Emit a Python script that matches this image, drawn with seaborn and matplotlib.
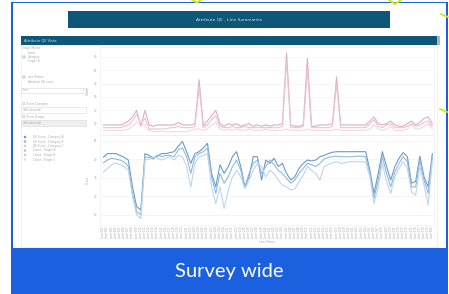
import numpy as np
import pandas as pd
import matplotlib
matplotlib.use('Agg')
import matplotlib.pyplot as plt
import matplotlib.patches as mpatches
import seaborn as sns

# Attribute QE - line summaries dashboard, shown inside a "Survey wide" frame

# --- 1. DATA ---
line_names = [f'Line {i:03d}' for i in range(1, 81)]

# top panel: counts (pink)
count_a = [9, 9, 9, 9, 9, 10, 12, 15, 20, 8, 20, 9, 8, 9, 9, 9, 9, 9, 11, 9,
           9, 9, 10, 43, 8, 12, 16, 20, 10, 8, 10, 9, 10, 8, 9, 10, 8, 9, 8, 9,
           8, 9, 9, 10, 63, 9, 8, 8, 9, 59, 8, 8, 9, 9, 9, 10, 45, 9, 9, 9,
           9, 9, 9, 9, 12, 15, 10, 9, 10, 12, 9, 8, 8, 10, 12, 9, 11, 14, 15, 10]
count_b = [7, 7, 7, 7, 7, 8, 9, 12, 17, 10, 14, 6, 6, 6, 6, 6, 7, 7, 8, 7,
           7, 7, 8, 38, 7, 9, 13, 16, 8, 7, 7, 8, 7, 7, 8, 7, 7, 7, 7, 7,
           7, 7, 7, 8, 57, 7, 7, 7, 8, 50, 7, 7, 7, 7, 7, 8, 40, 7, 7, 7,
           7, 7, 7, 7, 10, 13, 8, 7, 9, 10, 7, 7, 7, 8, 10, 8, 9, 11, 12, 8]
count_c = [5, 5, 5, 5, 5, 5, 6, 8, 11, 12, 8, 5, 4, 4, 4, 4, 4, 4, 4, 4,
           4, 5, 6, 6, 5, 6, 9, 11, 6, 5, 6, 5, 6, 5, 5, 6, 5, 5, 5, 6,
           5, 5, 5, 5, 6, 5, 5, 5, 5, 6, 5, 5, 5, 5, 5, 5, 6, 5, 5, 5,
           5, 5, 5, 5, 6, 9, 6, 5, 6, 8, 5, 5, 5, 6, 9, 6, 6, 8, 10, 6]

# bottom panel: scores (blue)
score_a = [41, 43, 43, 43, 42, 41, 39.5, 25, 14.4, 12.6, 43, 42, 40.5, 41.6, 43, 43, 43.5, 44, 47, 49.5,
           44, 37.7, 43, 44, 46, 48.5, 32.3, 25, 37, 32.3, 36, 41.3, 44, 36, 25, 30.5, 41.3, 41.3, 28.7, 39.5,
           37.7, 40.5, 36, 37.7, 32.3, 28.7, 30.5, 35, 37.7, 39.5, 39, 39.5, 41.3, 42, 43, 43.7, 44, 44, 44, 44,
           44, 44, 44, 44, 34, 21.5, 32.3, 44, 36, 28.7, 36, 40.5, 43.5, 41.3, 27, 28, 41.6, 30.5, 25, 43]
score_b = [38, 39.5, 40.5, 40, 39.5, 38.5, 36, 21.5, 11.7, 10, 41, 41, 40, 42.2, 41.3, 42, 42, 41.3, 45, 46,
           41.3, 32.3, 41.3, 43, 44, 46, 30.5, 21.5, 32.3, 27, 30.5, 36, 39.5, 34, 25, 32.3, 37.7, 39.5, 32.3, 36,
           39.5, 37, 34, 32.3, 29.6, 27, 28.7, 32.3, 35, 37.7, 37, 36, 37.7, 40, 41, 41.3, 41.6, 41.3, 41.3, 41.3,
           41.3, 41.6, 41.6, 41.3, 32.3, 18.9, 28.7, 41.3, 32.3, 25, 33, 37.7, 41.3, 38.6, 25, 25, 39.5, 28.7, 21.5, 41.3]
score_c = [33, 35, 37, 38, 37, 36, 34, 20, 10, 8, 39.5, 40, 41.3, 40.5, 39.5, 40.5, 41.3, 39.5, 42, 41.3,
           36, 25, 37.7, 41.3, 42, 43, 25, 16, 25, 13.5, 23.3, 30.5, 34, 30.5, 24, 28.7, 34, 37.7, 36, 30.5,
           34, 32.3, 28.7, 26, 25, 23.3, 24, 27.8, 31.4, 36, 34, 32.3, 28.7, 36, 37, 38, 38.6, 37.7, 38, 38.6,
           38.6, 38.6, 38.6, 38.6, 30.5, 16, 25, 37.7, 27.8, 21.5, 30.5, 35, 38.6, 35, 22.4, 20.6, 36, 26, 15.3, 38.6]

count_series = ['Count - Target A', 'Count - Target B', 'Count - Target C']
score_series = ['QE Score - Category A', 'QE Score - Category B', 'QE Score - Category C']
pink = ['#e2aec4', '#e9c4d4', '#f0d8e2']
blue = ['#6a9acb', '#93b9dd', '#bcd5ec']

idx = np.arange(len(line_names))
top_df = pd.DataFrame({'line': np.tile(idx, 3),
                       'value': count_a + count_b + count_c,
                       'series': np.repeat(count_series, len(idx))})
bot_df = pd.DataFrame({'line': np.tile(idx, 3),
                       'value': score_a + score_b + score_c,
                       'series': np.repeat(score_series, len(idx))})

# --- 2. FIGURE + FRAME ---
sns.set_style('white')
plt.rcParams['font.family'] = ['DejaVu Sans']
W, H = 449, 294
fig = plt.figure(figsize=(W / 100, H / 100), dpi=100)

bg = fig.add_axes([0, 0, 1, 1])
bg.set_xlim(0, W)
bg.set_ylim(H, 0)
bg.axis('off')

frame_blue = '#1b60de'
teal = '#0f5779'
grey_txt = '#a8a8a8'

bg.add_patch(mpatches.Rectangle((11, 1.5), 437.3, 292, color=frame_blue, lw=0))
bg.add_patch(mpatches.Rectangle((13.3, 3.4), 432.3, 244.8, color='white', lw=0))

# yellow-green bits poking in from outside
for xs, ys in [([192, 197, 201], [0, 2.5, 0]), ([389, 395, 401], [0, 4, 0]),
               ([441, 448], [14, 17]), ([440, 447], [109, 112])]:
    bg.plot(xs, ys, color='#d6e61c', lw=1.4, solid_capstyle='round')

# title banner
bg.add_patch(mpatches.Rectangle((68, 11), 322, 17, color=teal, lw=0))
bg.text(229, 19.5, 'Attribute QE - Line Summaries', color='#d0dde6', fontsize=3.2,
        ha='center', va='center')

# panel header + body
bg.add_patch(mpatches.Rectangle((21, 36), 416, 8.5, color=teal, lw=0))
bg.add_patch(mpatches.Rectangle((437, 36), 3, 8.5, color='#9fb9cc', lw=0))
bg.text(24, 40.2, 'Attribute QE Vista', color='#d0dde6', fontsize=2.6, va='center')
bg.add_patch(mpatches.Rectangle((21, 44.5), 416, 202, fill=False, ec='#e6e6e6', lw=0.4))

# sidebar controls
def small(x, y, s, **kw):
    bg.text(x, y, s, color=grey_txt, fontsize=2, va='center', **kw)

small(22, 48.5, 'Target Metric')
small(28, 52.5, 'Count')
bg.add_patch(mpatches.Circle((24, 57), 1.2, fc='white', ec='#999999', lw=0.4))
small(28, 57, 'Category')
small(28, 61, 'Target %')
bg.add_patch(mpatches.Circle((24, 77), 1.2, fc='white', ec='#999999', lw=0.4))
small(28, 77, 'Line Status')
small(28, 81.5, 'Attribute QE score')
bg.add_patch(mpatches.Rectangle((21, 87.5), 65, 5.5, fc='white', ec='#d8d8d8', lw=0.4))
small(23, 90.2, 'Line')
small(83, 90.2, 'v')
small(22, 104, 'QE Score Category')
bg.add_patch(mpatches.Rectangle((21, 107), 65, 5.5, fc='white', ec='#d8d8d8', lw=0.4))
small(23, 109.8, '(All selected)')
small(22, 117, 'QE Score Range')
bg.add_patch(mpatches.Rectangle((21, 120), 65, 5.5, fc='#efefef', ec='#d8d8d8', lw=0.4))
small(23, 122.8, '(All selected)')

# sidebar legend
for k, (name, col) in enumerate(zip(score_series + count_series, blue + pink)):
    y = 137 + k * 4.5
    bg.add_patch(mpatches.Circle((25, y), 1.3, color=col, lw=0))
    small(33, y, name)

# caption
bg.text(229, 271, 'Survey wide', color='white', fontsize=14.5,
        ha='center', va='center', family=['Lato', 'DejaVu Sans'], fontweight='normal')

# --- 3. LINE PANELS ---
ax_top = fig.add_axes([100 / W, 1 - 135 / H, 334 / W, 88 / H])
ax_bot = fig.add_axes([100 / W, 1 - 225 / H, 334 / W, 90 / H])

sns.lineplot(data=top_df, x='line', y='value', hue='series', palette=pink,
             linewidth=0.8, legend=False, ax=ax_top)
sns.lineplot(data=bot_df, x='line', y='value', hue='series', palette=blue,
             linewidth=0.8, legend=False, ax=ax_bot)

ax_top.set_ylim(1.5, 67.5)
ax_top.set_yticks([10, 20, 30, 40, 50, 60])
ax_bot.set_ylim(4.5, 53)
ax_bot.set_yticks([10, 20, 30, 40, 50])

for ax in (ax_top, ax_bot):
    ax.set_xlim(-0.8, 79.4)
    ax.set_facecolor('none')
    ax.grid(axis='y', color='#f0f0f0', lw=0.4)
    ax.tick_params(axis='y', labelsize=2, colors=grey_txt, length=0, pad=2)
    for side in ax.spines.values():
        side.set_color('#ececec')
        side.set_linewidth(0.4)

ax_top.set_xticks([])
ax_top.set_xlabel('')
ax_top.set_ylabel('Count', fontsize=2.2, color=grey_txt, labelpad=3)
ax_bot.set_ylabel('Score', fontsize=2.2, color=grey_txt, labelpad=3)

ax_bot.set_xticks(idx)
ax_bot.set_xticklabels(line_names, rotation=90, fontsize=2, color=grey_txt)
ax_bot.tick_params(axis='x', length=0, pad=1)
ax_bot.set_xlabel('Line Name', fontsize=2.2, color=grey_txt, labelpad=1)

plt.savefig('out.png', dpi=100)
